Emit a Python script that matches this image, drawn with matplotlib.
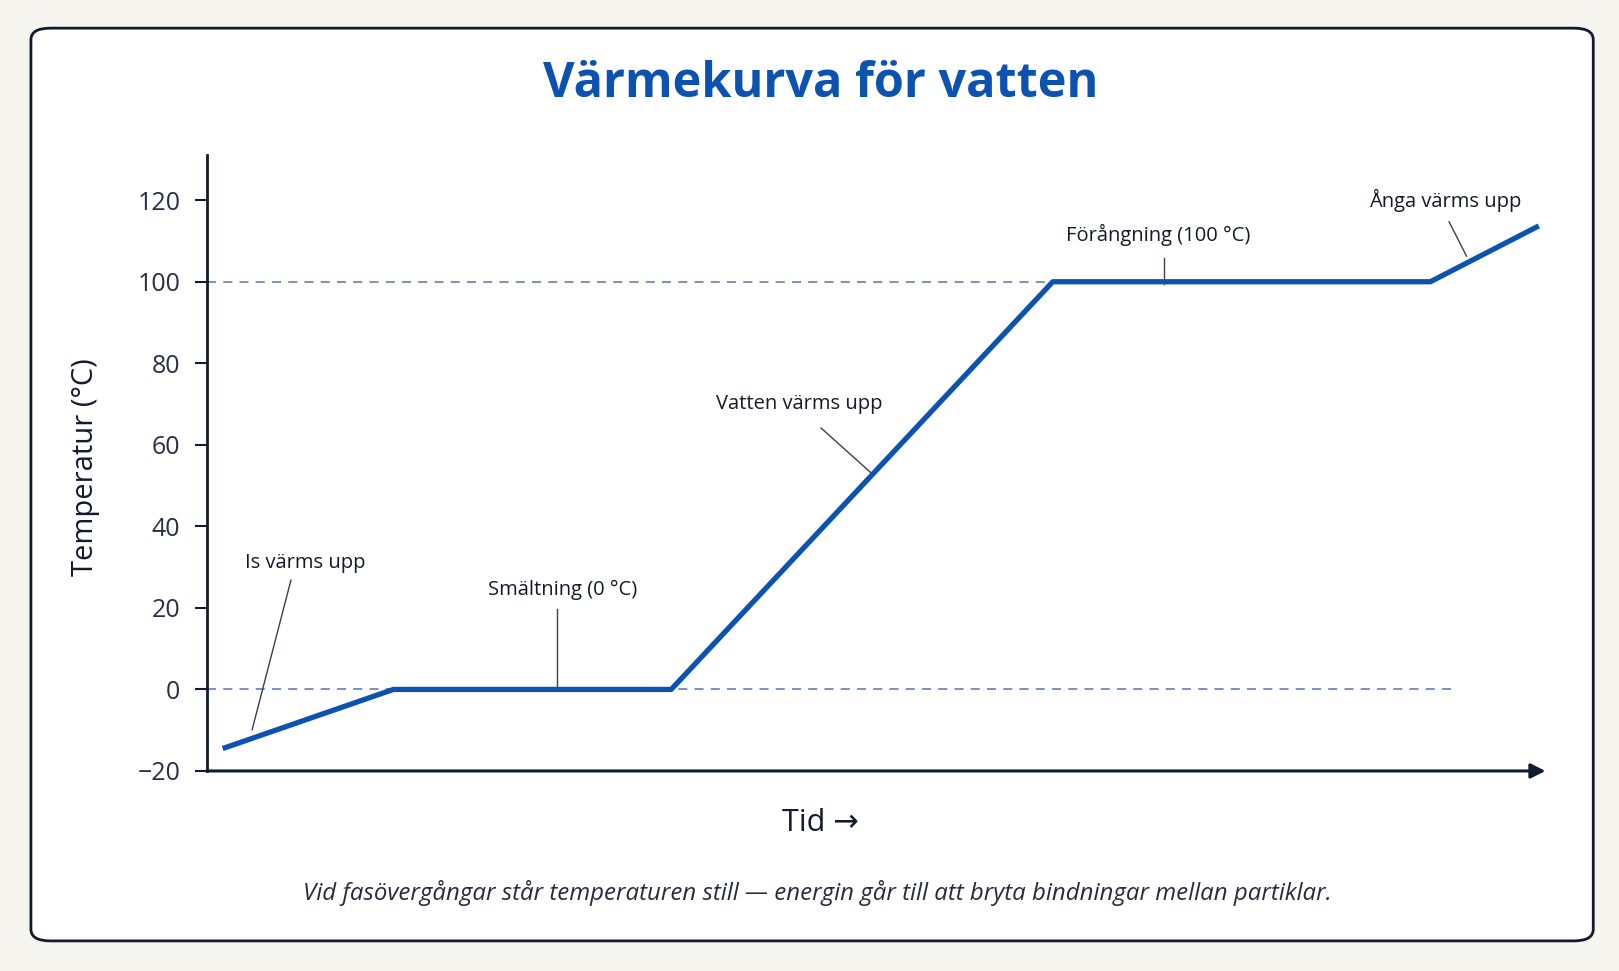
import matplotlib.pyplot as plt
from matplotlib.patches import FancyBboxPatch

plt.rcParams['font.family'] = ['Open Sans', 'DejaVu Sans']

# heating curve of water (time in arbitrary units)
tid = [1.2, 13.95, 34.7, 63.2, 91.4, 99.5]
temp = [-14.5, 0, 0, 100, 100, 113.7]

yticks = [-20, 0, 20, 40, 60, 80, 100, 120]
ytick_labels = ['\u221220', '0', '20', '40', '60', '80', '100', '120']

# reference lines: (temperature, end of line in time units)
ref_lines = [(0, 93.1), (100, 63.2)]

# labels: text, text position, connector start, connector end
labels = [
    ('Is värms upp', (7.4, 31.1), (6.3, 26.8), (3.4, -9.9)),
    ('Smältning (0 °C)', (26.6, 24.3), (26.2, 19.7), (26.2, 0.3)),
    ('Vatten värms upp', (44.3, 69.9), (45.9, 64.1), (49.6, 53.2)),
    ('Förångning (100 °C)', (71.1, 111.4), (71.5, 105.8), (71.5, 99.4)),
    ('Ånga värms upp', (92.5, 120.0), (92.8, 114.7), (94.1, 106.3)),
]

blue = '#0b52b1'
navy = '#111a2e'

fig = plt.figure(figsize=(16.19, 9.71), dpi=100)
fig.patch.set_facecolor('#f6f4ef')

# rounded card behind the chart
card = FancyBboxPatch((0.0191, 0.031), 0.965, 0.940,
                      boxstyle='round,pad=0,rounding_size=0.012',
                      transform=fig.transFigure, facecolor='white',
                      edgecolor=navy, linewidth=2, zorder=0)
fig.patches.append(card)

ax = fig.add_axes([0.1276, 0.206, 0.827, 0.634])
ax.set_zorder(2)
ax.set_facecolor('none')

for y, xend in ref_lines:
    ax.plot([0, xend], [y, y], color='#6f87c2', linestyle=(0, (5, 4)), linewidth=1.3, zorder=1)

ax.plot(tid, temp, color=blue, linewidth=3.8, solid_capstyle='butt', zorder=3)

for text, txy, p0, p1 in labels:
    ax.text(txy[0], txy[1], text, ha='center', va='center', fontsize=14.5, color='#151a26')
    ax.plot([p0[0], p1[0]], [p0[1], p1[1]], color='#3a3f4b', linewidth=1.0, zorder=2)

ax.set_xlim(0, 100)
ax.set_ylim(-20, 131)
ax.set_yticks(yticks)
ax.set_yticklabels(ytick_labels)
ax.set_xticks([])
ax.tick_params(axis='y', direction='out', length=9, width=1.5, color=navy,
               labelsize=18, labelcolor='#283044', pad=10)

for s in ['top', 'right', 'bottom']:
    ax.spines[s].set_visible(False)
ax.spines['left'].set_color(navy)
ax.spines['left'].set_linewidth(2)

# time axis as arrow
ax.annotate('', xy=(1.0, 0), xytext=(0, 0), xycoords='axes fraction',
            arrowprops=dict(arrowstyle='-|>', color=navy, lw=2.2,
                            mutation_scale=22, shrinkA=0, shrinkB=0))

fig.text(0.507, 0.913, 'Värmekurva för vatten', ha='center', va='center',
         fontsize=35, fontweight='bold', color=blue)
fig.text(0.053, 0.519, 'Temperatur (°C)', ha='center', va='center', rotation=90,
         fontsize=21, color=navy)
fig.text(0.507, 0.152, 'Tid \u2192', ha='center', va='center', fontsize=22, color=navy)
fig.text(0.505, 0.080,
         'Vid fasövergångar står temperaturen still \u2014 energin går till att bryta bindningar mellan partiklar.',
         ha='center', va='center', fontsize=17.3, style='italic', color='#262c3a')

fig.savefig('out.png', dpi=100, facecolor=fig.get_facecolor())
